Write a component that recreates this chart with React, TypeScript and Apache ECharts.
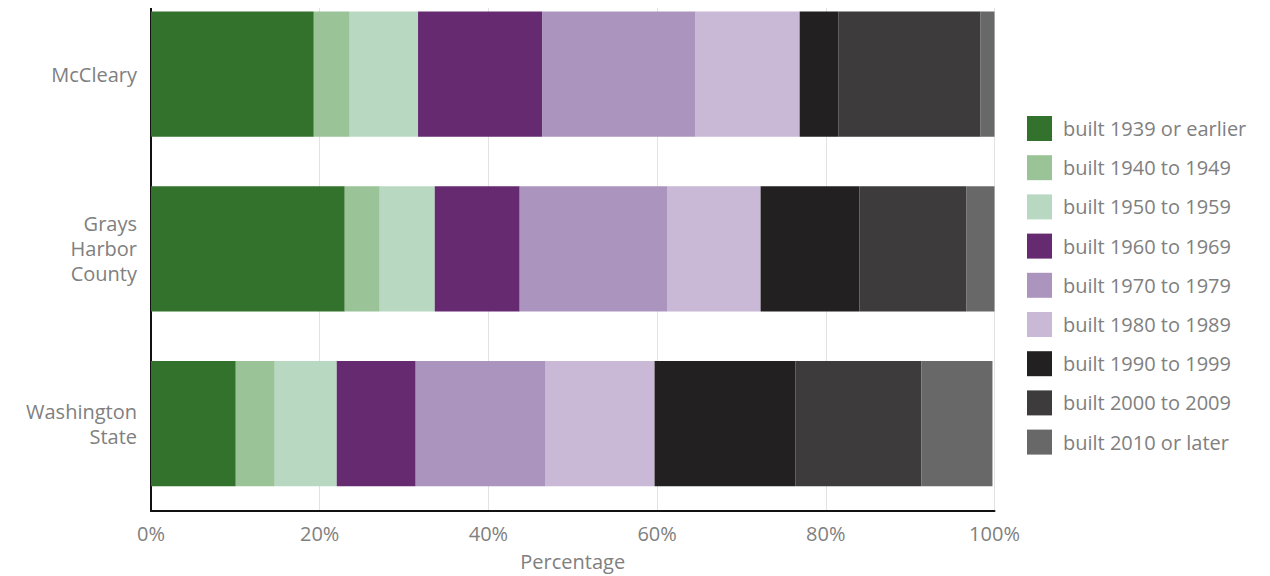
import React, { useEffect, useRef } from "react";
import * as echarts from "echarts";

const categories = ["McCleary", "Grays\nHarbor\nCounty", "Washington\nState"];
const seriesNames = [
  "built 1939 or earlier",
  "built 1940 to 1949",
  "built 1950 to 1959",
  "built 1960 to 1969",
  "built 1970 to 1979",
  "built 1980 to 1989",
  "built 1990 to 1999",
  "built 2000 to 2009",
  "built 2010 or later",
];
const built1939 = [19.3, 22.97, 10.05];
const built1940 = [4.26, 4.15, 4.62];
const built1950 = [8.1, 6.52, 7.35];
const built1960 = [14.7, 10.07, 9.36];
const built1970 = [18.21, 17.54, 15.41];
const built1980 = [12.33, 11.02, 12.91];
const built1990 = [4.62, 11.73, 16.72];
const built2000 = [16.83, 12.69, 14.93];
const built2010 = [1.65, 3.31, 8.41];
const seriesValues = [built1939, built1940, built1950, built1960, built1970, built1980, built1990, built2000, built2010];
const colors = ["#33722c", "#9ac397", "#b9d8c1", "#652a70", "#ab95bf", "#c9b8d6", "#232021", "#3d3b3c", "#686868"];
const xTicks = [0, 20, 40, 60, 80, 100];

const FONT = "'Open Sans', sans-serif";
const TEXT = "#808080";
const SHIFT = 24; // chart div is moved up by this many pixels

export default function App() {
  const ref = useRef<HTMLDivElement>(null);
  useEffect(() => {
    if (!ref.current) return;
    const chart = echarts.init(ref.current, null, { renderer: "svg" });
    chart.setOption({
      animation: false,
      textStyle: { fontFamily: FONT },
      grid: { left: 151, right: 275.5, top: -13.2 + SHIFT, bottom: 59.2, containLabel: false },
      legend: {
        orient: "vertical",
        left: 1022,
        top: 111 + SHIFT,
        itemWidth: 25,
        itemHeight: 25,
        itemGap: 14.2,
        icon: "rect",
        data: seriesNames,
        textStyle: { color: TEXT, fontSize: 20, fontFamily: FONT, padding: [0, 0, 0, 6] },
      },
      xAxis: {
        type: "value",
        min: 0,
        max: 100,
        interval: 20,
        axisLine: { show: true, lineStyle: { color: "#111", width: 2 } },
        axisTick: { show: false },
        splitLine: { show: true, lineStyle: { color: "#e2e2e2", width: 1 } },
        axisLabel: {
          color: TEXT,
          fontSize: 20,
          margin: 12,
          formatter: (v: number) => (xTicks.includes(v) ? v + "%" : ""),
        },
        name: "Percentage",
        nameLocation: "middle",
        nameGap: 40,
        nameTextStyle: { color: TEXT, fontSize: 20 },
      },
      yAxis: {
        type: "category",
        inverse: true,
        data: categories,
        axisLine: { show: true, lineStyle: { color: "#111", width: 2 } },
        axisTick: { show: false },
        axisLabel: { color: TEXT, fontSize: 20, margin: 14, lineHeight: 25, align: "right" },
      },
      graphic: [
        { type: "rect", z: 100, shape: { x: 140, y: 0, width: 870, height: 8 + SHIFT }, style: { fill: "#fff" } },
      ],
      series: seriesNames.map((name, i) => ({
        name,
        type: "bar",
        stack: "total",
        barCategoryGap: "28.4%",
        itemStyle: { color: colors[i] },
        data: seriesValues[i],
      })),
    });
    return () => chart.dispose();
  }, []);
  return (
    <div
      ref={ref}
      style={{ position: "absolute", left: 0, top: -SHIFT, width: 1270, height: 576 + SHIFT }}
    />
  );
}
